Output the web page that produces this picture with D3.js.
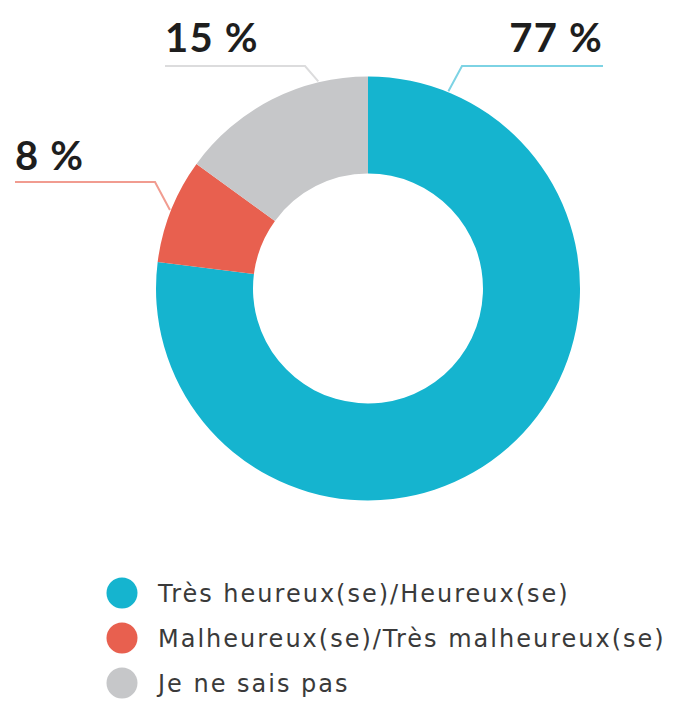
<!DOCTYPE html>
<html>
<head>
<meta charset="utf-8">
<script src="https://cdn.jsdelivr.net/npm/d3@7"></script>
<style>
  html, body { margin: 0; padding: 0; background: #fff; }
  svg { display: block; }
  .lbl { font-family: Lato, "Open Sans", sans-serif; font-weight: 700; fill: #1e1e1e; }
  .leg { font-family: "DejaVu Sans", sans-serif; fill: #3a3a3a; }
</style>
</head>
<body>
<svg id="chart" width="674" height="707"></svg>
<script>
// data
const categories = ["Très heureux(se)/Heureux(se)", "Malheureux(se)/Très malheureux(se)", "Je ne sais pas"];
const values = [77, 8, 15];
const valueLabels = ["77 %", "8 %", "15 %"];

const colors = ["#15b4cf", "#e8604f", "#c6c7c9"];
const lineColors = ["#7dd3e4", "#f19c90", "#dcdcdd"];

// where each callout sits: fraction along the slice for the tip, elbow and text end
const callouts = [
    { t: 0.08, elbow: [462, 66], end: [603, 66], anchor: "end", text: [603, 52] },
    { t: 0.5, elbow: [155, 182], end: [15, 182], anchor: "start", text: [15, 170] },
    { t: 0.75, elbow: [305, 66], end: [165, 66], anchor: "start", text: [165, 52] }
];

const cx = 368, cy = 288.5;
const rOuter = 212, rInner = 115;

const svg = d3.select("#chart");
const g = svg.append("g").attr("transform", `translate(${cx},${cy})`);

const pie = d3.pie().sort(null).value(d => d);
const arcs = pie(values);
const arc = d3.arc().innerRadius(rInner).outerRadius(rOuter);

g.selectAll("path.slice")
    .data(arcs)
    .enter()
    .append("path")
    .attr("class", "slice")
    .attr("d", arc)
    .attr("fill", (d, i) => colors[i]);

// leader lines
arcs.forEach((d, i) => {
    const c = callouts[i];
    const a = d.startAngle + (d.endAngle - d.startAngle) * c.t;
    const tip = [cx + Math.sin(a) * (rOuter + 1), cy - Math.cos(a) * (rOuter + 1)];
    svg.append("polyline")
        .attr("points", [tip, c.elbow, c.end].map(p => p.join(",")).join(" "))
        .attr("fill", "none")
        .attr("stroke", lineColors[i])
        .attr("stroke-width", 2);
    svg.append("text")
        .attr("class", "lbl")
        .attr("x", c.text[0])
        .attr("y", c.text[1])
        .attr("text-anchor", c.anchor)
        .attr("font-size", 40)
        .attr("letter-spacing", 1.2)
        .text(valueLabels[i]);
});

// legend
const legend = svg.append("g").attr("transform", "translate(122,593)");
const rows = legend.selectAll("g")
    .data(categories)
    .enter()
    .append("g")
    .attr("transform", (d, i) => `translate(0,${i * 45})`);

rows.append("circle")
    .attr("r", 15.5)
    .attr("fill", (d, i) => colors[i]);

rows.append("text")
    .attr("class", "leg")
    .attr("x", 36)
    .attr("y", 9)
    .attr("font-size", 24)
    .attr("letter-spacing", 2)
    .text(d => d);
</script>
</body>
</html>
